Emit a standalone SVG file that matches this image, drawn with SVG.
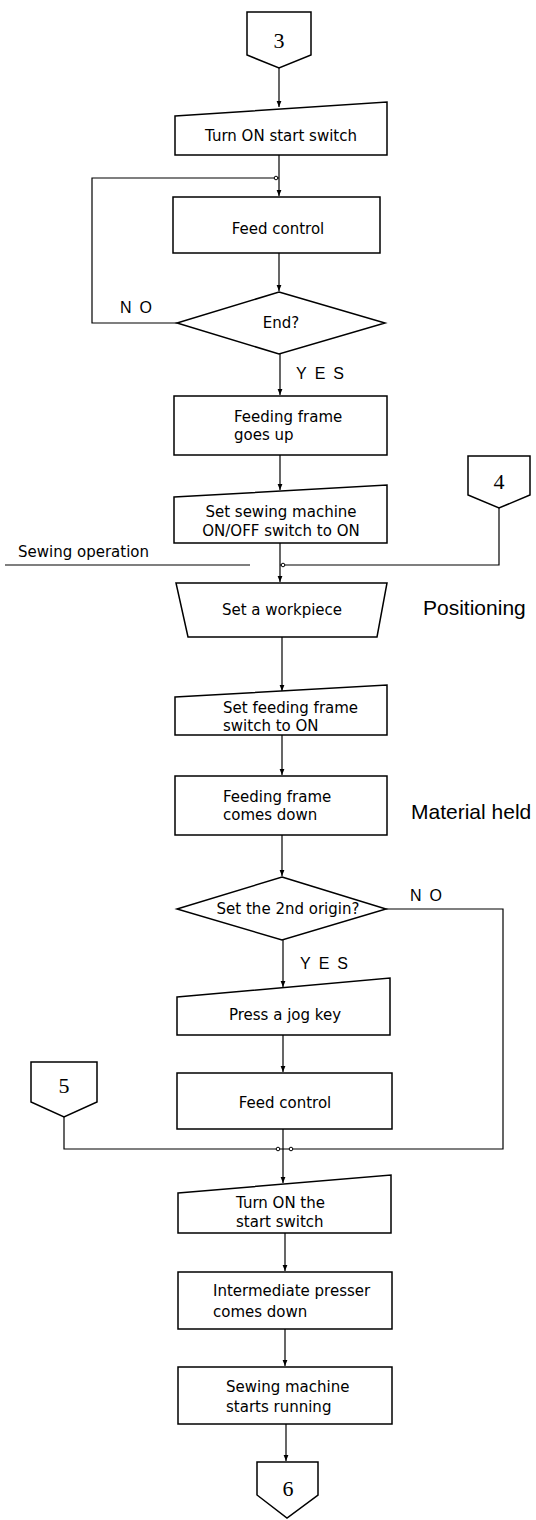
<svg xmlns="http://www.w3.org/2000/svg" width="536" height="1520" viewBox="0 0 536 1520">
<defs>
<marker id="arr" viewBox="0 0 8 8" refX="8" refY="4" markerWidth="6" markerHeight="6" markerUnits="userSpaceOnUse" orient="auto">
<path d="M0,0.8 L8,4 L0,7.2 Z" fill="#000"/>
</marker>
<style>
.n{fill:#fff;stroke:#000;stroke-width:1.5}
.c{fill:none;stroke:#000;stroke-width:1.2}
.t{font-family:"DejaVu Sans",sans-serif;font-size:15px;fill:#000}
.m{text-anchor:middle}
.k{font-family:"Liberation Serif",serif;font-size:22px;fill:#000;text-anchor:middle}
.s{font-family:"Liberation Sans",sans-serif;font-size:21px;fill:#000}
.y{font-family:"Liberation Sans",sans-serif;font-size:16px;fill:#000;letter-spacing:8px}
.d{fill:#fff;stroke:#000;stroke-width:1}
</style>
</defs>
<g id="connectors">
<path class="c" d="M279,68 V107" marker-end="url(#arr)"/>
<path class="c" d="M279,155 V196" marker-end="url(#arr)"/>
<path class="c" d="M177,323 H92 V178 H279"/>
<path class="c" d="M279,253 V291" marker-end="url(#arr)"/>
<path class="c" d="M280,354 V395" marker-end="url(#arr)"/>
<path class="c" d="M280,455 V490" marker-end="url(#arr)"/>
<path class="c" d="M5,565 H250"/>
<path class="c" d="M499,508 V565 H280"/>
<path class="c" d="M280,543 V582" marker-end="url(#arr)"/>
<path class="c" d="M282,637 V691" marker-end="url(#arr)"/>
<path class="c" d="M282,735 V775" marker-end="url(#arr)"/>
<path class="c" d="M282,835 V876" marker-end="url(#arr)"/>
<path class="c" d="M386,909 H503 V1149 H64 V1117"/>
<path class="c" d="M283,940 V987" marker-end="url(#arr)"/>
<path class="c" d="M283,1035 V1072" marker-end="url(#arr)"/>
<path class="c" d="M283,1129 V1183" marker-end="url(#arr)"/>
<path class="c" d="M285,1233 V1271" marker-end="url(#arr)"/>
<path class="c" d="M285,1329 V1366" marker-end="url(#arr)"/>
<path class="c" d="M286,1424 V1461" marker-end="url(#arr)"/>
<circle class="d" cx="276" cy="178" r="1.8"/>
<circle class="d" cx="283" cy="565" r="1.8"/>
<circle class="d" cx="278" cy="1149" r="1.8"/>
<circle class="d" cx="291" cy="1149" r="1.8"/>
<text class="y" x="120" y="313">NO</text>
<text class="y" x="296" y="379">YES</text>
<text class="y" x="410" y="901">NO</text>
<text class="y" x="300" y="969">YES</text>
</g>
<g id="c3"><polygon class="n" points="247,12 311,12 311,55 279,68 247,55"/><text class="k" x="279" y="48">3</text></g>
<g id="turn-on-start"><polygon class="n" points="175,116 387,102 387,155 175,155"/><text class="t m" x="281" y="141">Turn ON start switch</text></g>
<g id="feed-control-1"><rect class="n" x="173" y="197" width="207" height="56"/><text class="t m" x="278" y="234">Feed control</text></g>
<g id="end"><polygon class="n" points="279,292 385,323 279,354 177,323"/><text class="t m" x="281" y="328">End?</text></g>
<g id="frame-up"><rect class="n" x="174" y="396" width="213" height="59"/><text class="t" x="234" y="422">Feeding frame</text><text class="t" x="234" y="440">goes up</text></g>
<g id="c4"><polygon class="n" points="468,456 530,456 530,495 499,508 468,495"/><text class="k" x="499" y="489">4</text></g>
<g id="set-sewing"><polygon class="n" points="174,497 387,485 387,543 174,543"/><text class="t m" x="281" y="517">Set sewing machine</text><text class="t m" x="281" y="536">ON/OFF switch to ON</text></g>
<g id="sewing-operation"><text class="t" x="18" y="557">Sewing operation</text></g>
<g id="workpiece"><polygon class="n" points="176,583 387,583 377,637 188,637"/><text class="t m" x="282" y="615">Set a workpiece</text></g>
<g id="positioning"><text class="s" x="423" y="615">Positioning</text></g>
<g id="frame-switch"><polygon class="n" points="175,697 387,685 387,735 175,735"/><text class="t" x="223" y="713">Set feeding frame</text><text class="t" x="223" y="731">switch to ON</text></g>
<g id="frame-down"><rect class="n" x="175" y="776" width="212" height="59"/><text class="t" x="223" y="802">Feeding frame</text><text class="t" x="223" y="820">comes down</text></g>
<g id="material-held"><text class="s" x="411" y="819">Material held</text></g>
<g id="origin"><polygon class="n" points="282,877 386,909 282,940 177,909"/><text class="t m" x="288" y="914">Set the 2nd origin?</text></g>
<g id="jog"><polygon class="n" points="177,997 390,978 390,1035 177,1035"/><text class="t m" x="285" y="1020">Press a jog key</text></g>
<g id="feed-control-2"><rect class="n" x="177" y="1073" width="215" height="56"/><text class="t m" x="285" y="1108">Feed control</text></g>
<g id="c5"><polygon class="n" points="31,1062 97,1062 97,1102 64,1117 31,1102"/><text class="k" x="64" y="1093">5</text></g>
<g id="turn-on-the-start"><polygon class="n" points="178,1193 391,1175 391,1233 178,1233"/><text class="t" x="236" y="1208">Turn ON the</text><text class="t" x="236" y="1227">start switch</text></g>
<g id="presser"><rect class="n" x="178" y="1272" width="214" height="57"/><text class="t" x="213" y="1296">Intermediate presser</text><text class="t" x="213" y="1317">comes down</text></g>
<g id="running"><rect class="n" x="178" y="1367" width="214" height="57"/><text class="t" x="226" y="1392">Sewing machine</text><text class="t" x="226" y="1412">starts running</text></g>
<g id="c6"><polygon class="n" points="257,1462 318,1462 318,1495 287,1518 257,1495"/><text class="k" x="288" y="1496">6</text></g>
</svg>
